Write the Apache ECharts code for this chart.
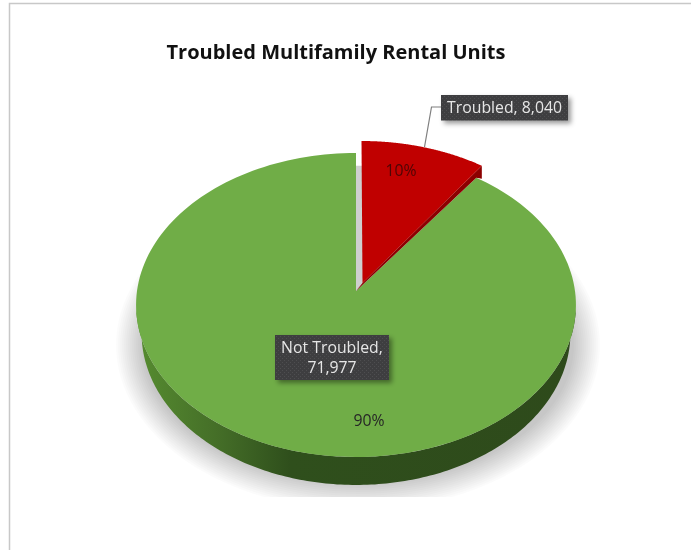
<!DOCTYPE html>
<html>
<head>
<meta charset="utf-8">
<script src="https://cdn.jsdelivr.net/npm/echarts@6/dist/echarts.min.js"></script>
<style>html,body{margin:0;padding:0;background:#fff}#c{width:691px;height:550px}</style>
</head>
<body>
<div id="c"></div>
<script>
const chartTitle = 'Troubled Multifamily Rental Units';
const categories = ['Not Troubled', 'Troubled'];
const unitCounts = [71977, 8040];
const percentLabels = ['90%', '10%'];

const total = unitCounts.reduce((a, b) => a + b, 0);
const startFraction = [unitCounts[1] / total, 0];

// Projection of the tilted disc
const AX = 356, AY = 291, RX = 219, RY = 150.7, K = 0.092;
const DEPTH = 28, DEPTH_X = 0.975;
function proj(theta, r) {
  r = r === undefined ? 1 : r;
  const u = Math.sin(theta) * r, v = -Math.cos(theta) * r;
  const d = 1 - K * v;
  return [AX + RX * u / d, AY + RY * v / d];
}
function arc(a0, a1, r) {
  const pts = [], n = 180;
  for (let i = 0; i <= n; i++) pts.push(proj(a0 + (a1 - a0) * i / n, r));
  return pts;
}
function lower(p) { return [AX + (p[0] - AX) * DEPTH_X, p[1] + DEPTH]; }

// Dotted dark texture of the callout boxes
function dotted() {
  const cv = document.createElement('canvas');
  cv.width = 4; cv.height = 4;
  const g = cv.getContext('2d');
  g.fillStyle = '#3e3e40'; g.fillRect(0, 0, 4, 4);
  g.fillStyle = '#4e4e50'; g.fillRect(0, 0, 1, 1); g.fillRect(2, 2, 1, 1);
  return cv;
}
const tex = dotted();
function box(x, y, w, h) {
  return {
    type: 'rect', shape: {x, y, width: w, height: h},
    style: {fill: {image: tex, repeat: 'repeat'}, shadowBlur: 5, shadowOffsetX: 3, shadowOffsetY: 3, shadowColor: 'rgba(0,0,0,0.4)'}
  };
}
function txt(text, x, y, fill) {
  return {type: 'text', style: {text, x, y, fill, font: '15.8px "Open Sans"', align: 'center', verticalAlign: 'middle'}};
}
const fmt = v => v.toLocaleString('en-US');

function renderSlice(params, api) {
  const i = params.dataIndex, value = api.value(1);
  const a0 = startFraction[i] * 2 * Math.PI;
  const a1 = a0 + value / total * 2 * Math.PI;
  const kids = [];
  if (i === 0) {
    const w = [...arc(Math.PI / 2 + 0.12, 3 * Math.PI / 2 - 0.12)];
    const bottom = w.map(lower).reverse();
    kids.push({
      type: 'polygon', shape: {points: [...w, ...bottom]},
      style: {fill: new echarts.graphic.LinearGradient(0, 0, 1, 0, [
        {offset: 0, color: '#568c30'}, {offset: 0.18, color: '#456f28'}, {offset: 0.35, color: '#2f4f1c'},
        {offset: 1, color: '#2e4a1b'}
      ])}
    });
    kids.push({type: 'polygon', shape: {points: [[AX, AY], ...arc(a0, a1)]}, style: {fill: '#70ad47'}});
    kids.push(box(275, 335, 114, 45));
    kids.push(txt(categories[i] + ',', 332, 348, '#e6e6e6'));
    kids.push(txt(fmt(value), 332, 368, '#e6e6e6'));
    kids.push(txt(percentLabels[i], 369, 421, '#262626'));
  } else {
    const DX0 = 6.5, DY0 = -8, DX1 = 5.5, DY1 = -12;
    const P = proj(a1), apex = [AX + DX0, AY + DY0];
    const rim = arc(a0, a1).map(p => [p[0] + DX1, p[1] + DY1]);
    const corner = rim[rim.length - 1];
    kids.push({type: 'polygon', shape: {points: [[AX, AY], ...arc(a0, a1, 0.9)]}, style: {fill: '#cfcfcf'}});
    kids.push({type: 'polygon', shape: {points: [apex, corner, [corner[0], P[1] + 1], P, [AX, AY]]}, style: {fill: '#8c0000'}});
    kids.push({type: 'polygon', shape: {points: [apex, ...rim]}, style: {fill: '#c00000'}});
    kids.push({type: 'polyline', shape: {points: [[424.5, 147], [431.5, 107], [441, 107]]}, style: {stroke: '#7f7f7f', lineWidth: 1.2, fill: 'none'}});
    kids.push(box(441, 95, 127, 25.5));
    kids.push(txt(categories[i] + ', ' + fmt(value), 504.5, 108, '#e6e6e6'));
    kids.push(txt(percentLabels[i], 401, 171.5, '#4d0505'));
  }
  return {type: 'group', children: kids};
}

// Soft ground shadow built from stacked translucent ellipses
const shadowRings = [];
for (let s = 0; s < 14; s++) {
  shadowRings.push({type: 'ellipse', z: -4, shape: {cx: 358, cy: 345, rx: 242 - s * 2, ry: 165 - s * 2},
    style: {fill: 'rgba(0,0,0,0.014)'}});
}

const chart = echarts.init(document.getElementById('c'), null, {renderer: 'canvas'});
chart.setOption({
  animation: false,
  backgroundColor: '#fff',
  title: {
    text: chartTitle, left: 331, top: 38, textAlign: 'center',
    textStyle: {fontFamily: 'Open Sans', fontWeight: 'bold', fontSize: 20, color: '#111'}
  },
  graphic: [
    {type: 'polyline', z: -5, shape: {points: [[9.5, 550], [9.5, 3.5], [691, 3.5]]}, style: {stroke: '#c8c8c8', lineWidth: 1.5, fill: 'none'}},
    ...shadowRings,
    {type: 'rect', z: -3, shape: {x: 60, y: 497, width: 600, height: 53}, style: {fill: '#fff'}}
  ],
  series: [{
    type: 'custom',
    coordinateSystem: 'none',
    silent: true,
    z: 2,
    renderItem: renderSlice,
    data: categories.map((c, i) => ({name: c, value: [i, unitCounts[i]]}))
  }]
});
</script>
</body>
</html>
